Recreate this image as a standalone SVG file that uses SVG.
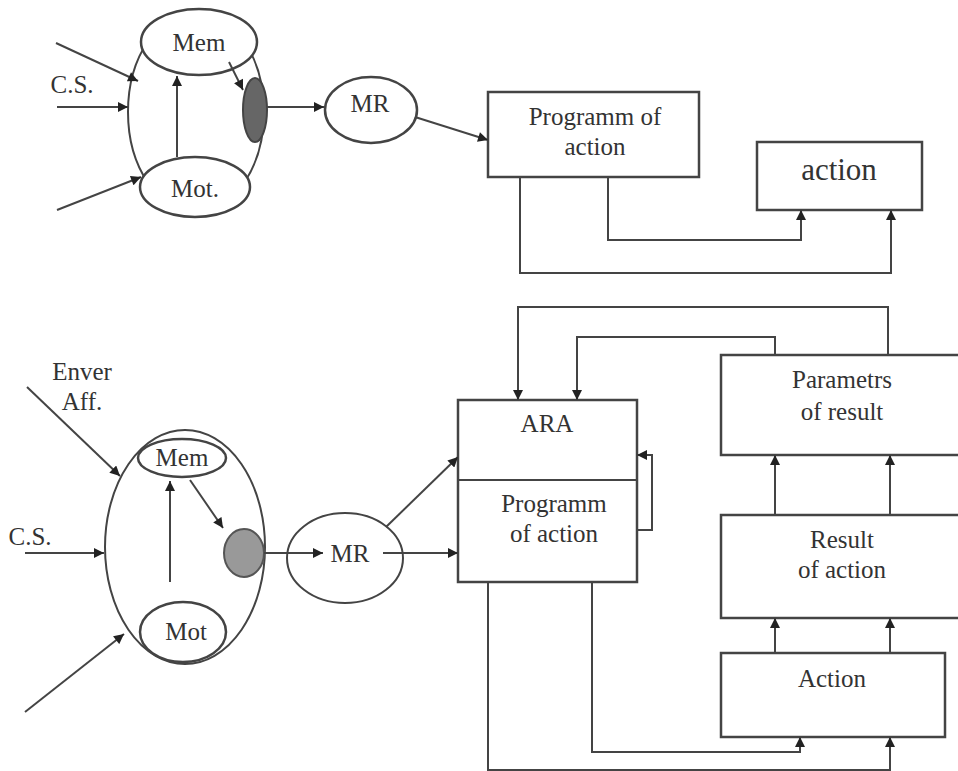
<svg xmlns="http://www.w3.org/2000/svg" width="958" height="771" viewBox="0 0 958 771">
<style>
text{font-family:"Liberation Serif","Times New Roman",serif;font-size:25px;fill:#333;text-anchor:middle}
.s{fill:none;stroke:#444;stroke-width:2}
.b{fill:#fff;stroke:#444;stroke-width:2.5}
.c{fill:none;stroke:#444;stroke-width:2;marker-end:url(#a)}
</style>
<defs>
<marker id="a" viewBox="0 0 10 10" refX="10" refY="5" markerWidth="11" markerHeight="10" markerUnits="userSpaceOnUse" orient="auto">
<path d="M0,0L10,5L0,10z" fill="#222"/>
</marker>
</defs>
<rect width="958" height="771" fill="#fff"/>
<g id="top-system">
<ellipse cx="196" cy="112" rx="68" ry="100" class="s"/>
</g>
<g id="top-mem"><ellipse cx="199" cy="42" rx="58" ry="33" class="b"/><text x="199" y="51">Mem</text></g>
<g id="top-mot"><ellipse cx="195" cy="187" rx="55" ry="30" class="b"/><text x="195" y="197">Mot.</text></g>
<g id="top-dark"><ellipse cx="255" cy="110" rx="12" ry="32" fill="#666" stroke="#444" stroke-width="2"/></g>
<g id="top-mr"><ellipse cx="371" cy="110" rx="46" ry="33" class="b"/><text x="370" y="112">MR</text></g>
<g id="top-programm"><rect x="488" y="92" width="211" height="85" class="b"/><text x="595" y="125">Programm of</text><text x="595" y="155">action</text></g>
<g id="top-action"><rect x="757" y="142" width="165" height="68" class="b"/><text x="839" y="180" style="font-size:31px">action</text></g>
<g id="top-label"><text x="72" y="93">C.S.</text></g>

<g id="bottom-system"><ellipse cx="185" cy="547" rx="80" ry="117" class="s"/></g>
<g id="bottom-mem"><ellipse cx="182" cy="458" rx="44" ry="19" class="b"/><text x="182" y="466">Mem</text></g>
<g id="bottom-mot"><ellipse cx="183" cy="632" rx="43" ry="30" class="b"/><text x="186" y="640">Mot</text></g>
<g id="bottom-gray"><ellipse cx="244" cy="553" rx="20" ry="24" fill="#999" stroke="#555" stroke-width="2"/></g>
<g id="bottom-mr"><ellipse cx="345" cy="558" rx="58" ry="45" class="s"/><text x="350" y="562">MR</text></g>
<g id="ara"><rect x="458" y="400" width="179" height="182" class="b"/><line x1="458" y1="480" x2="637" y2="480" class="s"/><text x="547" y="432">ARA</text><text x="554" y="512">Programm</text><text x="554" y="542">of  action</text></g>
<g id="parametrs"><rect x="721" y="355" width="240" height="100" class="b"/><text x="842" y="388">Parametrs</text><text x="842" y="420">of result</text></g>
<g id="result"><rect x="721" y="515" width="240" height="103" class="b"/><text x="842" y="548">Result</text><text x="842" y="578">of  action</text></g>
<g id="action"><rect x="721" y="653" width="224" height="84" class="b"/><text x="832" y="687">Action</text></g>
<g id="bottom-labels"><text x="82" y="380">Enver</text><text x="82" y="410">Aff.</text><text x="30" y="545">C.S.</text></g>

<g id="connectors">
<line x1="56" y1="43" x2="138" y2="81" class="c"/>
<line x1="57" y1="107" x2="128" y2="107" class="c"/>
<line x1="57" y1="210" x2="141" y2="177" class="c"/>
<line x1="177" y1="157" x2="177" y2="76" class="c"/>
<line x1="229" y1="62" x2="243" y2="90" class="c"/>
<line x1="267" y1="107" x2="324" y2="107" class="c"/>
<line x1="415" y1="117" x2="488" y2="140" class="c"/>
<polyline points="608,177 608,240 801,240 801,210" class="c"/>
<polyline points="520,177 520,273 891,273 891,210" class="c"/>

<line x1="27" y1="387" x2="120" y2="476" class="c"/>
<line x1="25" y1="553" x2="104" y2="553" class="c"/>
<line x1="25" y1="712" x2="124" y2="634" class="c"/>
<line x1="170" y1="582" x2="170" y2="481" class="c"/>
<line x1="190" y1="480" x2="223" y2="528" class="c"/>
<line x1="264" y1="553" x2="323" y2="553" class="c"/>
<line x1="383" y1="553" x2="458" y2="553" class="c"/>
<line x1="386" y1="527" x2="458" y2="457" class="c"/>
<polyline points="637,530 652,530 652,455 637,455" class="c"/>
<polyline points="888,355 888,307 518,307 518,400" class="c"/>
<polyline points="775,355 775,337 577,337 577,400" class="c"/>
<line x1="775" y1="515" x2="775" y2="455" class="c"/>
<line x1="890" y1="515" x2="890" y2="455" class="c"/>
<line x1="775" y1="653" x2="775" y2="618" class="c"/>
<line x1="890" y1="653" x2="890" y2="618" class="c"/>
<polyline points="488,582 488,770 890,770 890,737" class="c"/>
<polyline points="592,582 592,752 800,752 800,737" class="c"/>
</g>
</svg>
